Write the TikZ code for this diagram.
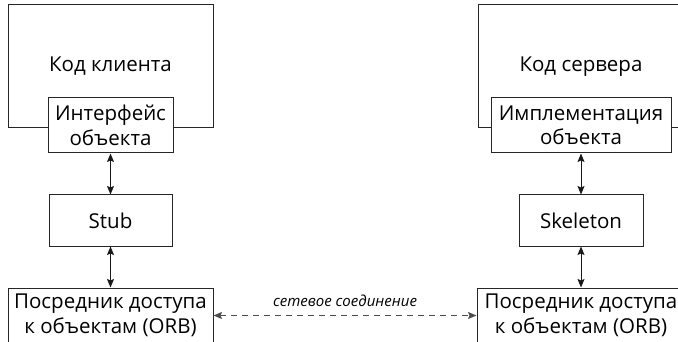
\documentclass[tikz,border=0pt]{standalone}
\usepackage{fontspec}
\setmainfont{Open Sans}
\usetikzlibrary{arrows.meta}
\tikzset{
  box/.style={draw=black!85, line width=1pt, fill=white, inner sep=0pt, align=center,
    font=\fontsize{20.5}{24.5}\selectfont},
  link/.style={line width=1pt, draw=black!90, {Stealth[length=8.5pt,width=7pt,inset=1.5pt]}-{Stealth[length=8.5pt,width=7pt,inset=1.5pt]}},
  net/.style={line width=1pt, draw=black!70, dash pattern=on 6pt off 5pt,
    {Stealth[length=8.5pt,width=7pt,inset=1.5pt]}-{Stealth[length=8.5pt,width=7pt,inset=1.5pt]}},
  netlabel/.style={font=\fontsize{15}{17}\selectfont\itshape, inner sep=0pt}
}
\begin{document}
\begin{tikzpicture}[x=1pt,y=-1pt]
\useasboundingbox (0,0) rectangle (678,342);
\clip (0,0) rectangle (678,342);
\fill[white] (0,0) rectangle (678,342);
% left column
\node[box, minimum width=205pt, minimum height=123pt] (client) at (110.5,66.5) {Код клиента};
\node[box, minimum width=125pt, minimum height=55pt] (iface) at (110.5,125.5) {Интерфейс\\объекта};
\node[box, minimum width=123pt, minimum height=51pt] (stub) at (110.5,220.5) {Stub};
\node[box, minimum width=205pt, minimum height=55pt] (orbL) at (110.5,315.5) {Посредник доступа\\к объектам (ORB)};
% right column
\node[box, minimum width=206pt, minimum height=123pt] (server) at (581,66.5) {Код сервера};
\node[box, minimum width=180pt, minimum height=55pt] (impl) at (581,125.5) {Имплементация\\объекта};
\node[box, minimum width=124pt, minimum height=51pt] (skel) at (581,220.5) {Skeleton};
\node[box, minimum width=208pt, minimum height=55pt] (orbR) at (581,315.5) {Посредник доступа\\к объектам (ORB)};
% connectors
\draw[link] (iface.south) -- (stub.north);
\draw[link] (stub.south) -- (orbL.north);
\draw[link] (impl.south) -- (skel.north);
\draw[link] (skel.south) -- (orbR.north);
\draw[net] (orbL.east) -- node[netlabel, above=8pt] (netlbl) {сетевое соединение} (orbR.west);
\end{tikzpicture}
\end{document}
